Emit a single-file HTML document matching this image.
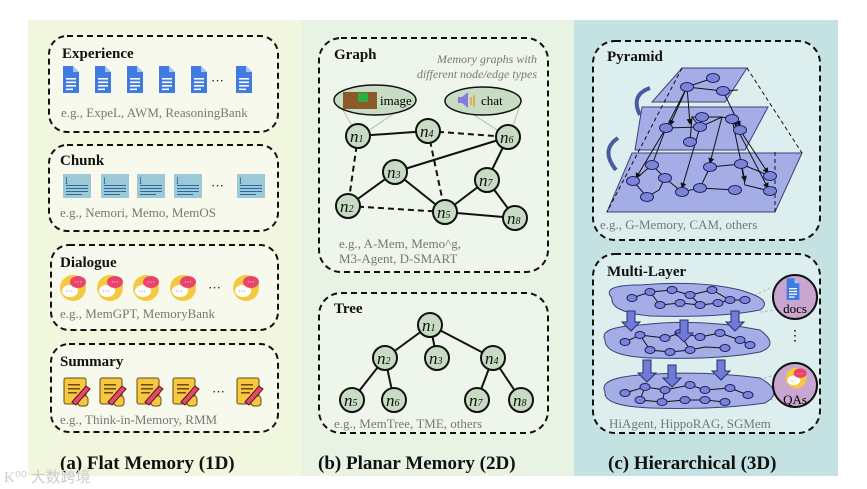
<!DOCTYPE html>
<html><head><meta charset="utf-8"><style>
html,body{margin:0;padding:0;background:#fff;}
svg{display:block;}
text{font-family:"Liberation Serif",serif;}
.t{font-weight:bold;font-size:15px;fill:#111;}
.eg{font-size:13px;fill:#777;}
.big{font-weight:bold;font-size:19px;fill:#111;}
.box{fill:#f7f9ec;stroke:#111;stroke-width:2;stroke-dasharray:6 4;}
.gbox{fill:#eef5ea;stroke:#111;stroke-width:2;stroke-dasharray:6 4;}
.rbox{fill:#dcefee;stroke:#111;stroke-width:2;stroke-dasharray:6 4;}
.nd{fill:#c8dcc4;stroke:#111;stroke-width:2;}
.nl{font-style:italic;font-size:17px;fill:#111;}
.e{stroke:#111;stroke-width:2;}
.d{stroke:#111;stroke-width:2;stroke-dasharray:6 4;}
.pl{fill:#9fa6e6;stroke:#2a2f6a;stroke-width:1;opacity:.9;}
.pn{fill:#7c84d8;stroke:#1d2060;stroke-width:1;}
.pe{stroke:#111;stroke-width:1;}
</style></head><body>
<svg width="867" height="489" viewBox="0 0 867 489" xmlns="http://www.w3.org/2000/svg">
<defs>
<marker id="ar" markerWidth="6" markerHeight="6" refX="5" refY="3" orient="auto"><path d="M0,0L6,3L0,6z" fill="#111"/></marker>
<g id="doc"><path d="M0,0h10l6,6v21h-16z" fill="#3f7be0"/><path d="M10,0l6,6h-6z" fill="#a6c4f4"/><rect x="3" y="12" width="10" height="1.6" fill="#fff"/><rect x="3" y="15.5" width="10" height="1.6" fill="#fff"/><rect x="3" y="19" width="10" height="1.6" fill="#fff"/><rect x="3" y="22.5" width="7" height="1.6" fill="#fff"/></g>
<g id="chk"><rect x="0" y="0" width="28" height="24" fill="#9cc8d8"/><text x="2" y="10" font-size="9" fill="#2b6a9a">I</text><rect x="3" y="11" width="22" height="1" fill="#2b6a9a"/><rect x="3" y="14" width="22" height="1" fill="#2b6a9a"/><rect x="3" y="17" width="22" height="1" fill="#2b6a9a"/><rect x="3" y="20" width="16" height="1" fill="#2b6a9a"/></g>
<g id="dlg"><circle cx="14" cy="14" r="13" fill="#f6c842"/><ellipse cx="11" cy="17" rx="8" ry="6" fill="#fff"/><ellipse cx="19" cy="8" rx="8" ry="6" fill="#e9456c"/><text x="15" y="11" font-size="8" fill="#fff">···</text><text x="6" y="20" font-size="8" fill="#6a5ad0">···</text></g>
<g id="sum"><rect x="0" y="0" width="22" height="26" rx="2" fill="#f6c842" stroke="#6b4a10"/><rect x="14" y="18" width="10" height="10" rx="3" fill="#f6c842" stroke="#6b4a10"/><rect x="4" y="6" width="12" height="1.5" fill="#6b4a10"/><rect x="4" y="10" width="12" height="1.5" fill="#6b4a10"/><rect x="4" y="14" width="9" height="1.5" fill="#6b4a10"/><path d="M8,24L22,8l4,3L12,27z" fill="#e34a6a" stroke="#5a1020"/></g>
</defs>

<rect x="28" y="20" width="273" height="456" fill="#f1f6df"/>
<rect x="301" y="20" width="273" height="456" fill="#e8f3e4"/>
<rect x="574" y="20" width="264" height="456" fill="#c4e2e2"/>

<!-- Left column -->
<rect class="box" x="49" y="36" width="229" height="96" rx="18"/>
<text class="t" x="62" y="58">Experience</text>
<use href="#doc" x="63" y="66"/><use href="#doc" x="95" y="66"/><use href="#doc" x="127" y="66"/><use href="#doc" x="159" y="66"/><use href="#doc" x="191" y="66"/>
<text x="211" y="85" font-size="13">···</text><use href="#doc" x="236" y="66"/>
<text class="eg" x="61" y="117">e.g., ExpeL, AWM, ReasoningBank</text>

<rect class="box" x="49" y="145" width="229" height="86" rx="18"/>
<text class="t" x="60" y="165">Chunk</text>
<use href="#chk" x="63" y="174"/><use href="#chk" x="101" y="174"/><use href="#chk" x="137" y="174"/><use href="#chk" x="174" y="174"/>
<text x="211" y="190" font-size="13">···</text><use href="#chk" x="237" y="174"/>
<text class="eg" x="60" y="217">e.g., Nemori, Memo, MemOS</text>

<rect class="box" x="51" y="245" width="227" height="85" rx="18"/>
<text class="t" x="60" y="267">Dialogue</text>
<use href="#dlg" x="59" y="274"/><use href="#dlg" x="96" y="274"/><use href="#dlg" x="132" y="274"/><use href="#dlg" x="169" y="274"/>
<text x="208" y="292" font-size="13">···</text><use href="#dlg" x="232" y="274"/>
<text class="eg" x="60" y="318">e.g., MemGPT, MemoryBank</text>

<rect class="box" x="51" y="344" width="227" height="88" rx="18"/>
<text class="t" x="60" y="366">Summary</text>
<use href="#sum" x="64" y="378"/><use href="#sum" x="100" y="378"/><use href="#sum" x="137" y="378"/><use href="#sum" x="173" y="378"/>
<text x="212" y="396" font-size="13">···</text><use href="#sum" x="237" y="378"/>
<text class="eg" x="60" y="424">e.g., Think-in-Memory, RMM</text>
<text class="big" x="60" y="469">(a) Flat Memory (1D)</text>
<text x="4" y="482" font-size="15" fill="#ccc" font-family="'Noto Sans CJK SC',sans-serif">K⁰⁰ 大数跨境</text>

<!-- Middle: Graph -->
<rect class="gbox" x="319" y="38" width="229" height="234" rx="22"/>
<text class="t" x="334" y="59">Graph</text>
<text x="537" y="63" font-size="12" font-style="italic" fill="#777" text-anchor="end">Memory graphs with</text>
<text x="537" y="78" font-size="12" font-style="italic" fill="#777" text-anchor="end">different node/edge types</text>
<line x1="340" y1="105" x2="358" y2="136" stroke="#bbb"/><line x1="405" y1="106" x2="362" y2="135" stroke="#bbb"/>
<line x1="463" y1="108" x2="505" y2="135" stroke="#bbb"/><line x1="520" y1="104" x2="512" y2="130" stroke="#bbb"/>
<ellipse cx="375" cy="100" rx="41" ry="15" fill="#c8dcc4" stroke="#111" stroke-width="1.5"/>
<rect x="343" y="92" width="34" height="17" fill="#8a5a2a"/><rect x="358" y="93" width="10" height="9" fill="#2ab040"/>
<text x="380" y="105" font-size="13">image</text>
<ellipse cx="483" cy="101" rx="38" ry="14" fill="#c8dcc4" stroke="#111" stroke-width="1.5"/>
<path d="M458,97h4l6,-5v16l-6,-5h-4z" fill="#8a78e0"/><path d="M471,97v8M474,95v12" stroke="#e0a030" stroke-width="1.5"/>
<text x="481" y="105" font-size="13">chat</text>
<line class="e" x1="358" y1="136" x2="428" y2="131"/>
<line class="d" x1="428" y1="131" x2="508" y2="137"/>
<line class="d" x1="358" y1="136" x2="348" y2="206"/>
<line class="d" x1="428" y1="131" x2="445" y2="212"/>
<line class="e" x1="395" y1="172" x2="508" y2="137"/>
<line class="e" x1="508" y1="137" x2="487" y2="180"/>
<line class="e" x1="395" y1="172" x2="348" y2="206"/>
<line class="e" x1="395" y1="172" x2="445" y2="212"/>
<line class="d" x1="348" y1="206" x2="445" y2="212"/>
<line class="e" x1="487" y1="180" x2="445" y2="212"/>
<line class="e" x1="487" y1="180" x2="515" y2="218"/>
<line class="e" x1="445" y1="212" x2="515" y2="218"/>
<g>
<circle class="nd" cx="358" cy="136" r="12"/><text class="nl" x="350" y="142">n<tspan font-size="10">1</tspan></text>
<circle class="nd" cx="428" cy="131" r="12"/><text class="nl" x="420" y="137">n<tspan font-size="10">4</tspan></text>
<circle class="nd" cx="508" cy="137" r="12"/><text class="nl" x="500" y="143">n<tspan font-size="10">6</tspan></text>
<circle class="nd" cx="395" cy="172" r="12"/><text class="nl" x="387" y="178">n<tspan font-size="10">3</tspan></text>
<circle class="nd" cx="487" cy="180" r="12"/><text class="nl" x="479" y="186">n<tspan font-size="10">7</tspan></text>
<circle class="nd" cx="348" cy="206" r="12"/><text class="nl" x="340" y="212">n<tspan font-size="10">2</tspan></text>
<circle class="nd" cx="445" cy="212" r="12"/><text class="nl" x="437" y="218">n<tspan font-size="10">5</tspan></text>
<circle class="nd" cx="515" cy="218" r="12"/><text class="nl" x="507" y="224">n<tspan font-size="10">8</tspan></text>
</g>
<text class="eg" x="339" y="248">e.g., A-Mem, Memo^g,</text>
<text class="eg" x="339" y="263">M3-Agent, D-SMART</text>

<!-- Tree -->
<rect class="gbox" x="319" y="293" width="229" height="140" rx="22"/>
<text class="t" x="334" y="313">Tree</text>
<line class="e" x1="430" y1="325" x2="385" y2="358"/><line class="e" x1="430" y1="325" x2="437" y2="358"/><line class="e" x1="430" y1="325" x2="493" y2="358"/>
<line class="e" x1="385" y1="358" x2="352" y2="400"/><line class="e" x1="385" y1="358" x2="394" y2="400"/>
<line class="e" x1="493" y1="358" x2="477" y2="400"/><line class="e" x1="493" y1="358" x2="521" y2="400"/>
<circle class="nd" cx="430" cy="325" r="12"/><text class="nl" x="422" y="331">n<tspan font-size="10">1</tspan></text>
<circle class="nd" cx="385" cy="358" r="12"/><text class="nl" x="377" y="364">n<tspan font-size="10">2</tspan></text>
<circle class="nd" cx="437" cy="358" r="12"/><text class="nl" x="429" y="364">n<tspan font-size="10">3</tspan></text>
<circle class="nd" cx="493" cy="358" r="12"/><text class="nl" x="485" y="364">n<tspan font-size="10">4</tspan></text>
<circle class="nd" cx="352" cy="400" r="12"/><text class="nl" x="344" y="406">n<tspan font-size="10">5</tspan></text>
<circle class="nd" cx="394" cy="400" r="12"/><text class="nl" x="386" y="406">n<tspan font-size="10">6</tspan></text>
<circle class="nd" cx="477" cy="400" r="12"/><text class="nl" x="469" y="406">n<tspan font-size="10">7</tspan></text>
<circle class="nd" cx="521" cy="400" r="12"/><text class="nl" x="513" y="406">n<tspan font-size="10">8</tspan></text>
<text class="eg" x="334" y="428">e.g., MemTree, TME, others</text>
<text class="big" x="318" y="469">(b) Planar Memory (2D)</text>

<!-- Right: Pyramid -->
<rect class="rbox" x="593" y="41" width="227" height="199" rx="22"/>
<text class="t" x="607" y="61">Pyramid</text>
<polygon class="pl" points="632,153 802,153 775,212 607,212"/>
<polygon class="pl" points="642,107 768,107 745,150 635,150"/>
<polygon class="pl" points="682,68 747,68 725,102 652,102"/>
<line x1="747" y1="68" x2="802" y2="153" stroke="#111" stroke-dasharray="4 3"/>
<line x1="775" y1="212" x2="775" y2="150" stroke="#111" stroke-dasharray="4 3"/>
<line x1="682" y1="68" x2="607" y2="212" stroke="#111" stroke-dasharray="4 3"/>
<path d="M640,115 Q630,95 650,88" fill="none" stroke="#4a5aa0" stroke-width="4"/>
<path d="M616,170 Q600,150 618,138" fill="none" stroke="#4a5aa0" stroke-width="4"/>
<g class="pe" fill="none">
<path d="M713,78L687,87L723,91L738,90M687,87L666,128L700,127L722,117L732,119L740,130M700,127L692,117L702,117L722,117"/>
<path d="M666,128L652,165L665,178L659,190L647,197L633,181L652,165M665,178L682,192L700,188L710,167L741,164L745,185L770,191M700,188L735,190M741,164L770,176"/>
</g>
<g stroke="#111" stroke-width="1" marker-end="url(#ar)">
<line x1="687" y1="87" x2="670" y2="125"/><line x1="687" y1="87" x2="690" y2="124"/><line x1="723" y1="91" x2="740" y2="126"/>
<line x1="666" y1="128" x2="636" y2="178"/><line x1="700" y1="127" x2="682" y2="188"/><line x1="722" y1="117" x2="710" y2="163"/>
<line x1="740" y1="130" x2="768" y2="173"/><line x1="732" y1="119" x2="745" y2="181"/><line x1="732" y1="119" x2="768" y2="188"/><line x1="692" y1="117" x2="690" y2="142"/>
</g>
<g class="pn">
<ellipse cx="713" cy="78" rx="6.5" ry="4.5"/><ellipse cx="687" cy="87" rx="6.5" ry="4.5"/><ellipse cx="723" cy="91" rx="6.5" ry="4.5"/>
<ellipse cx="702" cy="117" rx="6.5" ry="4.5"/><ellipse cx="732" cy="119" rx="6.5" ry="4.5"/><ellipse cx="666" cy="128" rx="6.5" ry="4.5"/><ellipse cx="700" cy="127" rx="6.5" ry="4.5"/><ellipse cx="740" cy="130" rx="6.5" ry="4.5"/><ellipse cx="690" cy="142" rx="6.5" ry="4.5"/>
<ellipse cx="652" cy="165" rx="6.5" ry="4.5"/><ellipse cx="710" cy="167" rx="6.5" ry="4.5"/><ellipse cx="741" cy="164" rx="6.5" ry="4.5"/><ellipse cx="665" cy="178" rx="6.5" ry="4.5"/><ellipse cx="770" cy="176" rx="6.5" ry="4.5"/><ellipse cx="633" cy="181" rx="6.5" ry="4.5"/><ellipse cx="682" cy="192" rx="6.5" ry="4.5"/><ellipse cx="700" cy="188" rx="6.5" ry="4.5"/><ellipse cx="735" cy="190" rx="6.5" ry="4.5"/><ellipse cx="770" cy="191" rx="6.5" ry="4.5"/><ellipse cx="647" cy="197" rx="6.5" ry="4.5"/>
</g>
<text class="eg" x="600" y="229">e.g., G-Memory, CAM, others</text>

<!-- Multi-Layer -->
<rect class="rbox" x="593" y="254" width="227" height="179" rx="22"/>
<text class="t" x="607" y="276">Multi-Layer</text>
<line x1="745" y1="300" x2="772" y2="287" stroke="#bbb" stroke-dasharray="3 2"/><line x1="760" y1="312" x2="775" y2="310" stroke="#bbb" stroke-dasharray="3 2"/>
<line x1="745" y1="385" x2="774" y2="375" stroke="#bbb" stroke-dasharray="3 2"/><line x1="760" y1="398" x2="776" y2="400" stroke="#bbb" stroke-dasharray="3 2"/>
<path class="pl" d="M612,298 Q600,285 640,285 Q700,280 740,290 Q775,300 760,310 Q720,318 650,316 Q610,312 612,298z"/>
<path class="pl" d="M605,340 Q598,327 640,325 Q700,318 760,330 Q780,345 760,352 Q720,360 650,358 Q605,356 605,340z"/>
<path class="pl" d="M605,392 Q598,378 640,375 Q700,370 760,378 Q785,392 765,403 Q720,410 650,408 Q603,406 605,392z"/>
<g class="pe" fill="none">
<path d="M632,298L650,292L672,290L690,295L712,290L730,300L745,300M650,292L660,305L680,303L700,305L718,303L730,300M690,295L700,305"/>
<path d="M625,342L640,335L665,338L680,333L700,337L720,333L740,340L750,345M640,335L650,350L670,352L690,350L705,347L725,348M680,333L690,350"/>
<path d="M625,393L645,387L665,390L690,385L705,390L730,388L748,395M645,387L640,400L662,402L685,400L705,400L725,402M665,390L662,402"/>
</g>
<g class="pn">
<ellipse cx="632" cy="298" rx="5" ry="3.5"/><ellipse cx="650" cy="292" rx="5" ry="3.5"/><ellipse cx="672" cy="290" rx="5" ry="3.5"/><ellipse cx="690" cy="295" rx="5" ry="3.5"/><ellipse cx="712" cy="290" rx="5" ry="3.5"/><ellipse cx="730" cy="300" rx="5" ry="3.5"/><ellipse cx="745" cy="300" rx="5" ry="3.5"/><ellipse cx="660" cy="305" rx="5" ry="3.5"/><ellipse cx="680" cy="303" rx="5" ry="3.5"/><ellipse cx="700" cy="305" rx="5" ry="3.5"/><ellipse cx="718" cy="303" rx="5" ry="3.5"/>
<ellipse cx="625" cy="342" rx="5" ry="3.5"/><ellipse cx="640" cy="335" rx="5" ry="3.5"/><ellipse cx="665" cy="338" rx="5" ry="3.5"/><ellipse cx="680" cy="333" rx="5" ry="3.5"/><ellipse cx="700" cy="337" rx="5" ry="3.5"/><ellipse cx="720" cy="333" rx="5" ry="3.5"/><ellipse cx="740" cy="340" rx="5" ry="3.5"/><ellipse cx="750" cy="345" rx="5" ry="3.5"/><ellipse cx="650" cy="350" rx="5" ry="3.5"/><ellipse cx="670" cy="352" rx="5" ry="3.5"/><ellipse cx="690" cy="350" rx="5" ry="3.5"/><ellipse cx="725" cy="348" rx="5" ry="3.5"/>
<ellipse cx="625" cy="393" rx="5" ry="3.5"/><ellipse cx="645" cy="387" rx="5" ry="3.5"/><ellipse cx="665" cy="390" rx="5" ry="3.5"/><ellipse cx="690" cy="385" rx="5" ry="3.5"/><ellipse cx="705" cy="390" rx="5" ry="3.5"/><ellipse cx="730" cy="388" rx="5" ry="3.5"/><ellipse cx="748" cy="395" rx="5" ry="3.5"/><ellipse cx="640" cy="400" rx="5" ry="3.5"/><ellipse cx="662" cy="402" rx="5" ry="3.5"/><ellipse cx="685" cy="400" rx="5" ry="3.5"/><ellipse cx="705" cy="400" rx="5" ry="3.5"/><ellipse cx="725" cy="402" rx="5" ry="3.5"/>
</g>
<g fill="#6f7bd8" stroke="#2a2f6a" stroke-width="1">
<path d="M627,311h8v11h5l-9,9l-9,-9h5z"/><path d="M680,320h8v13h5l-9,9l-9,-9h5z"/><path d="M731,311h8v11h5l-9,9l-9,-9h5z"/>
<path d="M643,360h8v13h5l-9,9l-9,-9h5z"/><path d="M668,365h8v13h5l-9,9l-9,-9h5z"/><path d="M717,360h8v11h5l-9,9l-9,-9h5z"/>
</g>
<circle cx="795" cy="297" r="22" fill="#c9a6cf" stroke="#111" stroke-width="2"/>
<use href="#doc" x="787" y="278" transform="translate(157,56) scale(0.8)"/>
<text x="795" y="313" font-size="13" text-anchor="middle">docs</text>
<text x="795" y="340" font-size="14" text-anchor="middle">⋮</text>
<circle cx="795" cy="385" r="22" fill="#c9a6cf" stroke="#111" stroke-width="2"/>
<use href="#dlg" x="785" y="366" transform="translate(157,74) scale(0.8)"/>
<text x="795" y="404" font-size="13" text-anchor="middle">QAs</text>
<text class="eg" x="609" y="428">HiAgent, HippoRAG, SGMem</text>
<text class="big" x="608" y="469">(c) Hierarchical  (3D)</text>
</svg>
</body></html>
